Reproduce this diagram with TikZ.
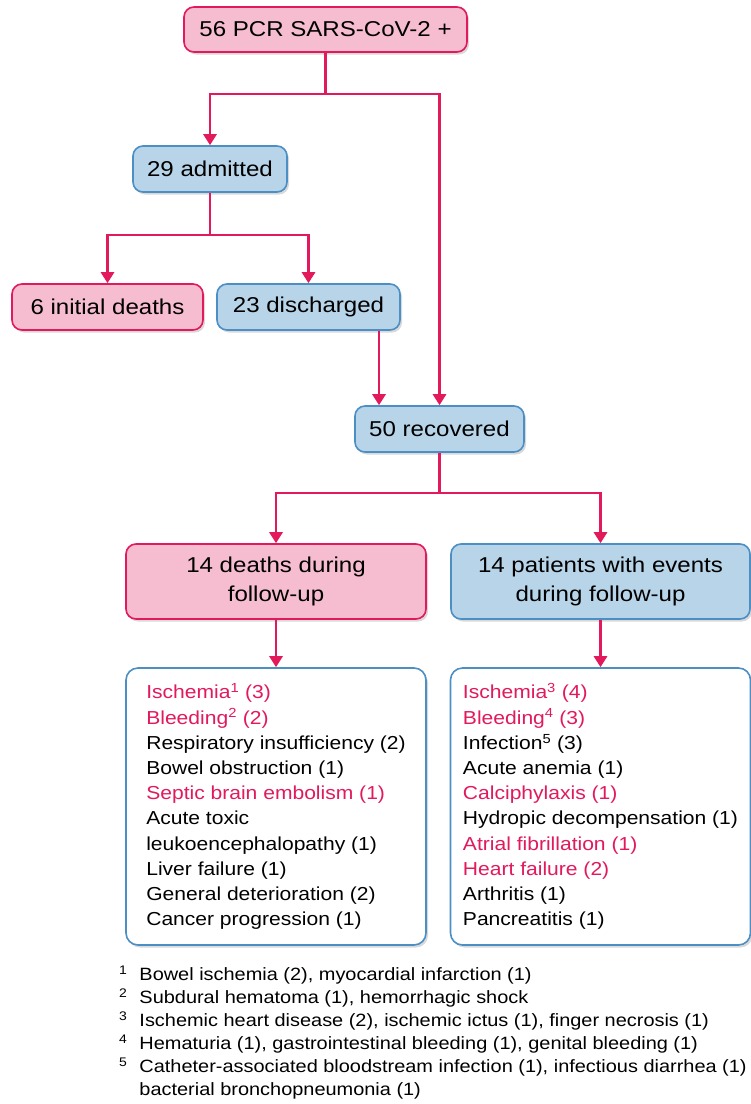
\documentclass[tikz,border=0pt]{standalone}
\usepackage{fontspec}
\setmainfont[FakeStretch=1.12]{Liberation Sans}
\usetikzlibrary{arrows.meta}

\definecolor{pinkfill}{RGB}{246,188,207}
\definecolor{crimson}{RGB}{226,25,91}
\definecolor{bluefill}{RGB}{183,212,232}
\definecolor{blueedge}{RGB}{76,143,196}

\newcommand{\hl}[1]{\textcolor{crimson}{#1}}

\tikzset{
  box/.style={rounded corners=10pt,line width=1.6pt,inner sep=0pt,align=center,
              preaction={fill=black,opacity=.15,
                         transform canvas={xshift=2pt,yshift=-2.5pt}},
              font=\fontsize{21.5}{29}\selectfont},
  pinkbox/.style={box,draw=crimson,fill=pinkfill},
  bluebox/.style={box,draw=blueedge,fill=bluefill},
  listbox/.style={box,draw=blueedge,fill=white,rounded corners=12pt,align=left,
                  minimum width=300pt,minimum height=277pt,
                  font=\fontsize{18.8}{25.2}\selectfont},
  link/.style={draw=crimson,line width=2.8pt},
  arr/.style={link,-{Triangle[length=11pt,width=13pt]}},
}

\begin{document}
\begin{tikzpicture}[x=1pt,y=-1pt]
\useasboundingbox (0,0) rectangle (751,1104);

% Upper part of the chart
\node[pinkbox,minimum width=283pt,minimum height=45pt] (pcr) at (325.5,29.5) {56 PCR SARS-CoV-2 +};
\node[bluebox,minimum width=154pt,minimum height=46pt] (adm) at (210,169) {29 admitted};
\node[pinkbox,minimum width=191pt,minimum height=46pt] (init) at (107.5,307) {6 initial deaths};
\node[bluebox,minimum width=183pt,minimum height=46pt] (dis) at (308.5,307) {23 discharged};
\node[bluebox,minimum width=169pt,minimum height=46pt] (rec) at (439.5,429) {50 recovered};

% Follow-up
\node[pinkbox,minimum width=300pt,minimum height=75pt] (fu1) at (276,581.5) {14 deaths during\\follow-up};
\node[bluebox,minimum width=299pt,minimum height=75pt] (fu2) at (600.5,581.5) {14 patients with events\\during follow-up};

% Lists of causes
\node[listbox] (list1) at (276,806.5) {%
  \hl{Ischemia\textsuperscript{1} (3)}\\
  \hl{Bleeding\textsuperscript{2} (2)}\\
  Respiratory insufficiency (2)\\
  Bowel obstruction (1)\\
  \hl{Septic brain embolism (1)}\\
  Acute toxic\\
  leukoencephalopathy (1)\\
  Liver failure (1)\\
  General deterioration (2)\\
  Cancer progression (1)};
\node[listbox] (list2) at (600.5,806.5) {%
  \hl{Ischemia\textsuperscript{3} (4)}\\
  \hl{Bleeding\textsuperscript{4} (3)}\\
  Infection\textsuperscript{5} (3)\\
  Acute anemia (1)\\
  \hl{Calciphylaxis (1)}\\
  Hydropic decompensation (1)\\
  \hl{Atrial fibrillation (1)}\\
  \hl{Heart failure (2)}\\
  Arthritis (1)\\
  Pancreatitis (1)};

% Footnotes
\node[anchor=north west,inner sep=0pt,font=\fontsize{17.8}{23.1}\selectfont] (notes) at (119,964) {%
  \begin{tabular}{@{}l@{\hspace{12pt}}l@{}}
  \textsuperscript{1} & Bowel ischemia (2), myocardial infarction (1)\\
  \textsuperscript{2} & Subdural hematoma (1), hemorrhagic shock\\
  \textsuperscript{3} & Ischemic heart disease (2), ischemic ictus (1), finger necrosis (1)\\
  \textsuperscript{4} & Hematuria (1), gastrointestinal bleeding (1), genital bleeding (1)\\
  \textsuperscript{5} & Catheter-associated bloodstream infection (1), infectious diarrhea (1)\\
                      & bacterial bronchopneumonia (1)
  \end{tabular}};

% Connectors
\coordinate (split1) at (325.5,94);
\draw[link] (pcr.south) -- (split1);
\draw[arr] (split1) -| (adm.north);
\draw[arr] (split1) -| (rec.north);

\coordinate (split2) at (210,235);
\draw[link] (adm.south) -- (split2);
\draw[arr] (split2) -| (init.north);
\draw[arr] (split2) -| (dis.north);

\coordinate (drop) at (379,0);
\draw[arr] (dis.south -| drop) -- (rec.north -| drop);

\coordinate (split3) at (439.5,493);
\draw[link] (rec.south) -- (split3);
\draw[arr] (split3) -| (fu1.north);
\draw[arr] (split3) -| (fu2.north);

\draw[arr] (fu1.south) -- (list1.north);
\draw[arr] (fu2.south) -- (list2.north);

\end{tikzpicture}
\end{document}
